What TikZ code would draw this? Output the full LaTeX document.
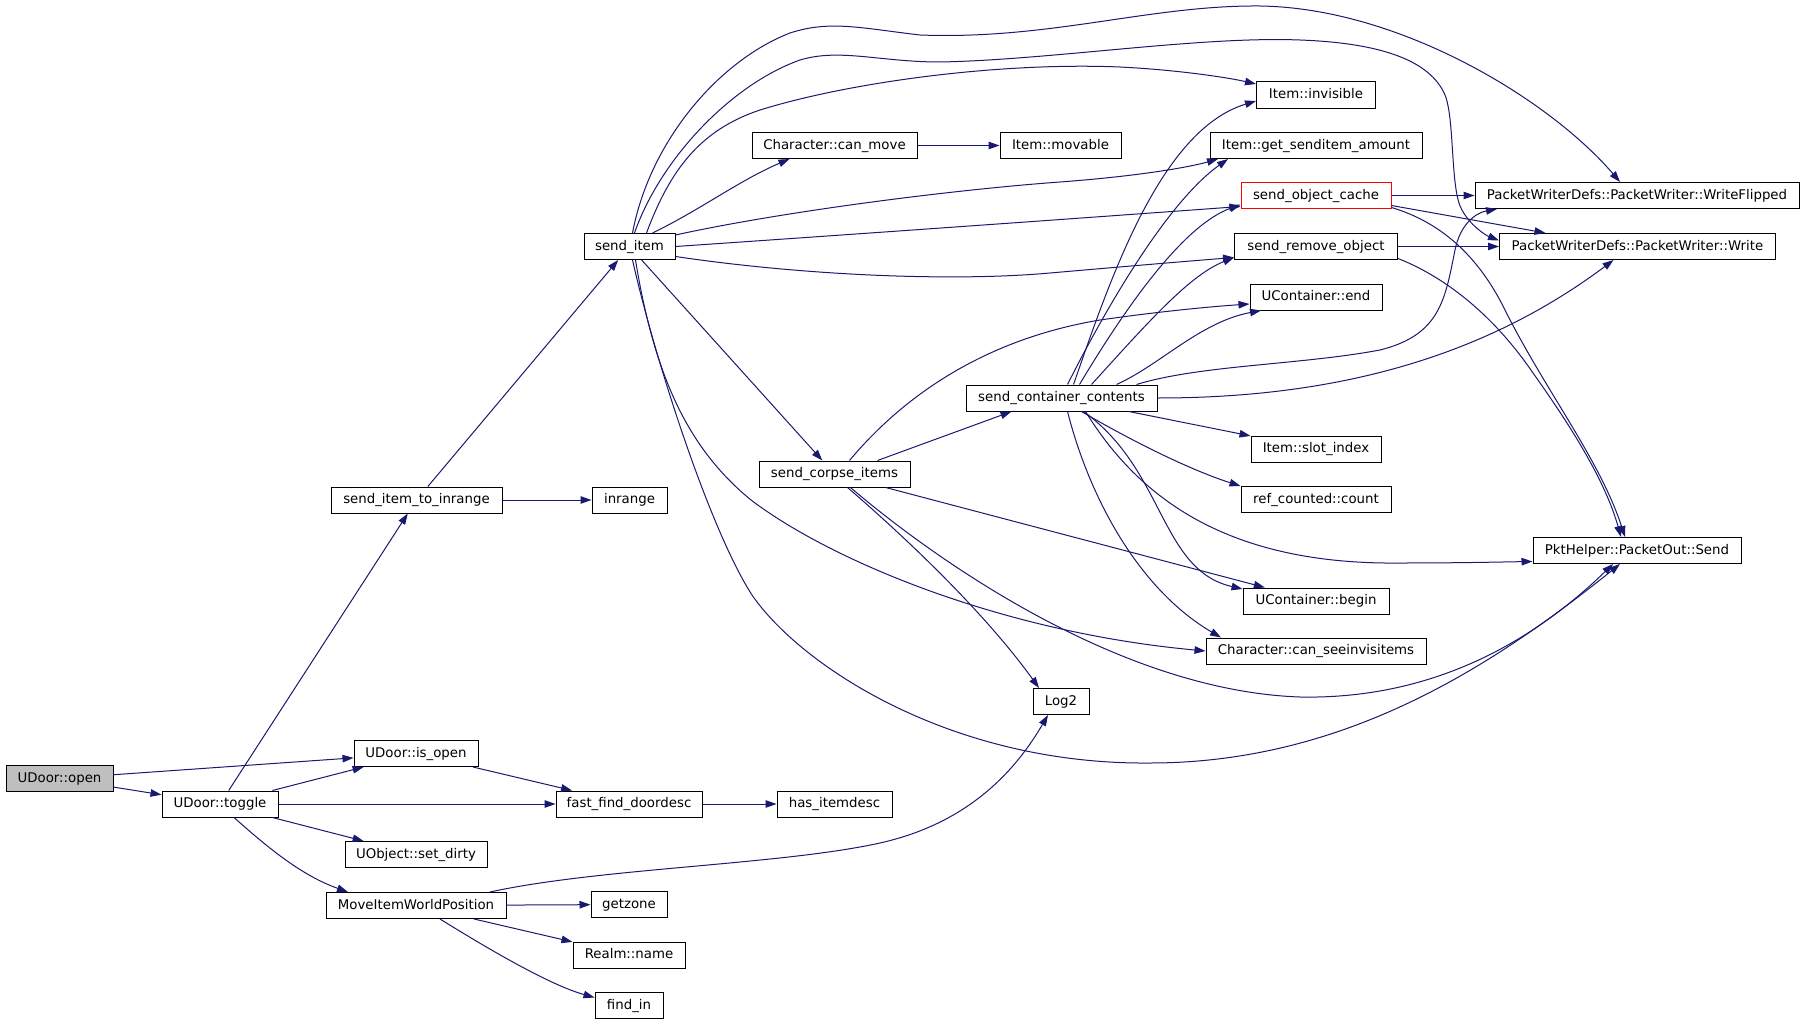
\documentclass[tikz,border=0pt]{standalone}
\usepackage{fontspec}
\setmainfont{DejaVu Sans}
\usetikzlibrary{arrows.meta}
\definecolor{edgeblue}{HTML}{191970}
\definecolor{rootgray}{HTML}{BFBFBF}
\begin{document}
\begin{tikzpicture}[x=1pt,y=-1pt,
  box/.style={draw=black, fill=white, line width=1pt, minimum height=26pt, inner sep=0pt,
    font=\fontsize{13.33pt}{16pt}\selectfont, text height=10pt, text depth=3pt, anchor=center},
  edge/.style={draw=edgeblue, line width=1pt, -{Triangle[length=11pt,width=7.5pt]}}]
\fill[white] (0,0) rectangle (1805,1025);
\useasboundingbox (0,0) rectangle (1805,1025);
% nodes
\node[box, minimum width=107pt, fill=rootgray] (open) at (59.5,778.5) {UDoor::open};
\node[box, minimum width=116pt] (toggle) at (220,804) {UDoor::toggle};
\node[box, minimum width=124pt] (isopen) at (416,753.5) {UDoor::is\_open};
\node[box, minimum width=142pt] (setdirty) at (416,854.5) {UObject::set\_dirty};
\node[box, minimum width=180pt] (moveitem) at (416,905.5) {MoveItemWorldPosition};
\node[box, minimum width=171pt] (sitr) at (416.5,500) {send\_item\_to\_inrange};
\node[box, minimum width=76pt] (getzone) at (629,904.5) {getzone};
\node[box, minimum width=112pt] (realm) at (629,955) {Realm::name};
\node[box, minimum width=68pt] (findin) at (629,1005.5) {find\_in};
\node[box, minimum width=146pt] (fastfind) at (629,804) {fast\_find\_doordesc};
\node[box, minimum width=75pt] (inrange) at (629.5,500) {inrange};
\node[box, minimum width=91pt] (senditem) at (629.5,246.5) {send\_item};
\node[box, minimum width=115pt] (hasitem) at (834.5,804) {has\_itemdesc};
\node[box, minimum width=165pt] (canmove) at (834.5,145.5) {Character::can\_move};
\node[box, minimum width=151pt] (corpse) at (834.5,474) {send\_corpse\_items};
\node[box, minimum width=121pt] (movable) at (1060.5,145.5) {Item::movable};
\node[box, minimum width=191pt] (scc) at (1061.5,398) {send\_container\_contents};
\node[box, minimum width=56pt] (log2) at (1061,701.5) {Log2};
\node[box, minimum width=119pt] (invisible) at (1316,95) {Item::invisible};
\node[box, minimum width=212pt] (amount) at (1316,145.5) {Item::get\_senditem\_amount};
\node[box, minimum width=150pt, draw=red] (cache) at (1316,195.5) {send\_object\_cache};
\node[box, minimum width=163pt] (remove) at (1316,246.5) {send\_remove\_object};
\node[box, minimum width=132pt] (ucend) at (1316,297) {UContainer::end};
\node[box, minimum width=130pt] (slot) at (1316,449) {Item::slot\_index};
\node[box, minimum width=150pt] (refcount) at (1316,499.5) {ref\_counted::count};
\node[box, minimum width=146pt] (ucbegin) at (1316,601) {UContainer::begin};
\node[box, minimum width=220pt] (canseeinv) at (1316,651) {Character::can\_seeinvisitems};
\node[box, minimum width=324pt] (wflipped) at (1637,195.5) {PacketWriterDefs::PacketWriter::WriteFlipped};
\node[box, minimum width=276pt] (write) at (1637.5,246.5) {PacketWriterDefs::PacketWriter::Write};
\node[box, minimum width=208pt] (send) at (1637,550.5) {PktHelper::PacketOut::Send};
% edges: UDoor
\draw[edge] (open) -- (isopen);
\draw[edge] (open) -- (toggle);
\draw[edge] (toggle) -- (sitr);
\draw[edge] (toggle) -- (isopen);
\draw[edge] (toggle) -- (fastfind);
\draw[edge] (toggle) -- (setdirty);
\draw[edge] ([xshift=14pt]toggle.south) .. controls (265,845) and (300,875) .. ([xshift=-68pt]moveitem.north);
\draw[edge] (isopen) -- (fastfind);
\draw[edge] (fastfind) -- (hasitem);
% MoveItemWorldPosition
\draw[edge] ([xshift=74pt]moveitem.north) .. controls (600,868) and (780,865) .. (880,843) .. controls (960,825) and (1010,780) .. ([xshift=-13pt]log2.south);
\draw[edge] (moveitem) -- (getzone);
\draw[edge] (moveitem) -- (realm);
\draw[edge] ([xshift=24pt]moveitem.south) .. controls (490,950) and (550,985) .. ([yshift=8pt]findin.west);
% send_item_to_inrange
\draw[edge] (sitr) -- (senditem);
\draw[edge] (sitr) -- (inrange);
% send_item
\draw[edge] ([xshift=23pt]senditem.north) .. controls (700,210) and (740,180) .. ([xshift=-45pt]canmove.south);
\draw[edge] ([xshift=17pt]senditem.north) .. controls (670,170) and (700,130) .. (760,110) .. controls (850,82) and (1000,62) .. (1120,67) .. controls (1180,70) and (1230,78) .. ([yshift=11pt]invisible.west);
\draw[edge] ([xshift=3pt]senditem.north) .. controls (650,140) and (720,60) .. (790,33) .. controls (830,20) and (860,28) .. (920,35) .. controls (1050,40) and (1150,5) .. (1260,6) .. controls (1400,8) and (1550,100) .. ([xshift=-17pt]wflipped.north);
\draw[edge] ([xshift=5pt]senditem.north) .. controls (660,160) and (730,85) .. (800,60) .. controls (840,48) and (880,62) .. (940,62) .. controls (1050,60) and (1200,36) .. (1300,40) .. controls (1380,43) and (1430,60) .. (1445,95) .. controls (1455,120) and (1450,190) .. (1462,210) .. controls (1470,225) and (1485,235) .. ([yshift=6pt]write.west);
\draw[edge] ([yshift=11.5pt]senditem.east) .. controls (780,212) and (950,190) .. (1060,182) .. controls (1140,176) and (1190,167) .. ([xshift=-98pt]amount.south);
\draw[edge] (senditem.east) .. controls (800,238) and (1000,224) .. ([yshift=-11pt]cache.west);
\draw[edge] ([yshift=-10pt]senditem.east) .. controls (800,275) and (950,282) .. (1050,273) .. controls (1130,266) and (1190,261) .. ([yshift=-11pt]remove.west);
\draw[edge] (senditem) -- (corpse);
\draw[edge] ([xshift=3pt]senditem.south) .. controls (655,360) and (710,530) .. (752,595) .. controls (800,665) and (950,765) .. (1150,763) .. controls (1350,763) and (1500,660) .. ([xshift=-17pt]send.south);
\draw[edge] ([xshift=6pt]senditem.south) .. controls (655,380) and (690,450) .. (751,500) .. controls (830,560) and (1000,632) .. (canseeinv.west);
% send_corpse_items
\draw[edge] ([xshift=43pt]corpse.north) -- ([xshift=-50pt]scc.south);
\draw[edge] ([xshift=15pt]corpse.north) .. controls (900,400) and (980,340) .. (1100,320) .. controls (1170,310) and (1220,306) .. ([yshift=-7pt]ucend.west);
\draw[edge] (corpse) -- (ucbegin);
\draw[edge] ([xshift=13pt]corpse.south) .. controls (920,550) and (990,620) .. ([xshift=-22pt]log2.north);
\draw[edge] ([xshift=16pt]corpse.south) .. controls (900,530) and (1100,690) .. (1300,697) .. controls (1450,700) and (1550,625) .. ([xshift=-24pt]send.south);
% send_container_contents
\draw[edge] ([xshift=12pt]scc.north) .. controls (1110,280) and (1160,130) .. ([yshift=-6pt]invisible.west);
\draw[edge] ([xshift=6pt]scc.north) .. controls (1110,300) and (1170,200) .. ([xshift=-88pt]amount.south);
\draw[edge] ([xshift=18pt]scc.north) .. controls (1130,300) and (1185,225) .. ([yshift=-9pt]cache.west);
\draw[edge] ([xshift=30pt]scc.north) .. controls (1150,320) and (1190,275) .. ([yshift=-11pt]remove.west);
\draw[edge] ([xshift=55pt]scc.north) .. controls (1160,365) and (1200,322) .. ([xshift=-55pt]ucend.south);
\draw[edge] ([xshift=75pt]scc.north) .. controls (1200,365) and (1300,365) .. (1380,350) .. controls (1440,335) and (1445,300) .. (1455,250) .. controls (1460,225) and (1475,213) .. ([xshift=-140pt]wflipped.south);
\draw[edge] (scc.east) .. controls (1330,398) and (1480,360) .. ([xshift=-24pt]write.south);
\draw[edge] (scc) -- (slot);
\draw[edge] ([xshift=20pt]scc.south) .. controls (1130,440) and (1190,470) .. (refcount.north west);
\draw[edge] ([xshift=22pt]scc.south) .. controls (1165,470) and (1160,570) .. ([yshift=12pt]ucbegin.west);
\draw[edge] ([xshift=6pt]scc.south) .. controls (1090,500) and (1140,590) .. ([xshift=-95pt]canseeinv.north);
\draw[edge] ([xshift=24pt]scc.south) .. controls (1140,500) and (1230,565) .. (1400,563) .. controls (1460,563) and (1500,562) .. ([yshift=-11pt]send.west);
% send_object_cache
\draw[edge] (cache) -- (wflipped);
\draw[edge] ([yshift=-10pt]cache.east) -- ([xshift=-92pt]write.north);
\draw[edge] ([yshift=-12pt]cache.east) .. controls (1440,222) and (1478,255) .. (1505,310) .. controls (1545,390) and (1600,460) .. ([xshift=-12pt]send.north);
% send_remove_object
\draw[edge] (remove) -- (write);
\draw[edge] ([yshift=-12pt]remove.east) .. controls (1440,275) and (1490,310) .. (1533,373) .. controls (1570,425) and (1605,480) .. ([xshift=-16pt]send.north);
% Character::can_move
\draw[edge] (canmove) -- (movable);
\end{tikzpicture}
\end{document}
